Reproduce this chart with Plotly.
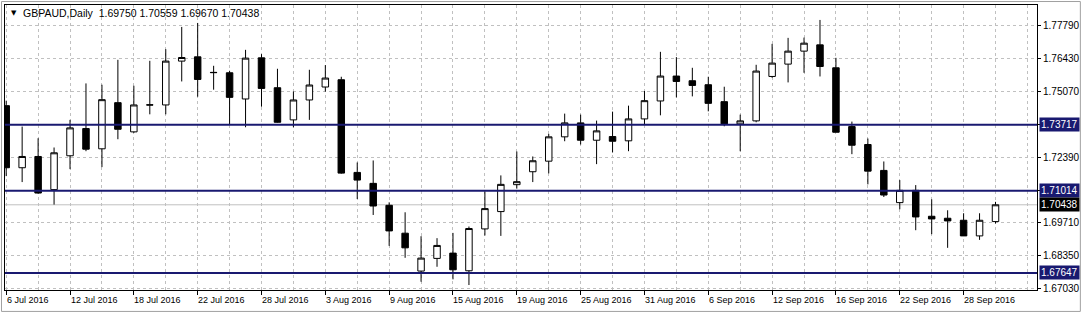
import pandas as pd
import plotly.graph_objects as go

# ---------------- data ----------------
dates = [d.strftime("%Y-%m-%d") for d in pd.bdate_range("2016-07-06", "2016-09-30")]

opens = [1.74497, 1.71955, 1.72416, 1.71058, 1.72445, 1.73559, 1.72730, 1.74619, 1.73424, 1.74520,
         1.74526, 1.76321, 1.76496, 1.75860, 1.75843, 1.74770, 1.76455, 1.75231, 1.73914, 1.74730,
         1.75260, 1.75558, 1.71763, 1.71315, 1.70417, 1.69275, 1.67724, 1.68243, 1.68459, 1.67736,
         1.69450, 1.70160, 1.71262, 1.71792, 1.72224, 1.73220, 1.73791, 1.73081, 1.73232, 1.73057,
         1.73954, 1.74689, 1.75709, 1.75517, 1.75354, 1.74660, 1.73750, 1.73873, 1.75692, 1.76198,
         1.76729, 1.76986, 1.76047, 1.73640, 1.72906, 1.71845, 1.70527, 1.71029, 1.69968, 1.69887,
         1.69805, 1.69164, 1.69750]

highs = [1.74701, 1.73640, 1.73163, 1.72783, 1.73914, 1.75407, 1.75354, 1.76374, 1.75313, 1.76333,
         1.76810, 1.77720, 1.77883, 1.76129, 1.75925, 1.76782, 1.76606, 1.76007, 1.75080, 1.75966,
         1.76158, 1.75680, 1.72171, 1.72253, 1.70539, 1.70131, 1.69152, 1.69071, 1.69287, 1.69548,
         1.70988, 1.71641, 1.72620, 1.72416, 1.73342, 1.74171, 1.74130, 1.73885, 1.74252, 1.74497,
         1.75097, 1.76700, 1.76484, 1.76047, 1.75680, 1.75272, 1.74130, 1.76170, 1.77027, 1.77272,
         1.77284, 1.78006, 1.76455, 1.73844, 1.73151, 1.72212, 1.71449, 1.71245, 1.70662, 1.70213,
         1.70091, 1.70091, 1.70559]

lows = [1.71612, 1.71368, 1.70894, 1.70446, 1.71898, 1.72632, 1.71980, 1.73122, 1.73383, 1.74142,
        1.74142, 1.75488, 1.74864, 1.75150, 1.73722, 1.73612, 1.74456, 1.73800, 1.73612, 1.73914,
        1.75068, 1.71710, 1.70674, 1.70021, 1.68756, 1.68267, 1.67288, 1.67900, 1.67386, 1.67153,
        1.69181, 1.69164, 1.71098, 1.71368, 1.71723, 1.73040, 1.72906, 1.72102, 1.72579, 1.72632,
        1.73722, 1.74101, 1.74836, 1.74876, 1.74264, 1.73652, 1.72632, 1.73816, 1.75639, 1.75448,
        1.75843, 1.75692, 1.73408, 1.72510, 1.71274, 1.70756, 1.70254, 1.69397, 1.69234, 1.68675,
        1.69164, 1.69001, 1.69670]

closes = [1.71955, 1.72416, 1.70919, 1.72567, 1.73587, 1.72714, 1.74742, 1.73530, 1.74526, 1.74530,
          1.76321, 1.76468, 1.75570, 1.75850, 1.74836, 1.76443, 1.75203, 1.73816, 1.74730, 1.75342,
          1.75627, 1.71735, 1.71449, 1.70388, 1.69368, 1.68675, 1.68255, 1.68773, 1.67777, 1.69466,
          1.70282, 1.71274, 1.71384, 1.72241, 1.73220, 1.73791, 1.73081, 1.73465, 1.73040, 1.73954,
          1.74701, 1.75709, 1.75488, 1.75325, 1.74591, 1.73750, 1.73873, 1.75913, 1.76239, 1.76729,
          1.77055, 1.76100, 1.73408, 1.72877, 1.71816, 1.70837, 1.71029, 1.69940, 1.69858, 1.69776,
          1.69164, 1.69805, 1.70438]

x_tick_dates = ["2016-07-06", "2016-07-12", "2016-07-18", "2016-07-22", "2016-07-28", "2016-08-03",
                "2016-08-09", "2016-08-15", "2016-08-19", "2016-08-25", "2016-08-31", "2016-09-06",
                "2016-09-12", "2016-09-16", "2016-09-22", "2016-09-28"]
x_tick_labels = ["6 Jul 2016", "12 Jul 2016", "18 Jul 2016", "22 Jul 2016", "28 Jul 2016", "3 Aug 2016",
                 "9 Aug 2016", "15 Aug 2016", "19 Aug 2016", "25 Aug 2016", "31 Aug 2016", "6 Sep 2016",
                 "12 Sep 2016", "16 Sep 2016", "22 Sep 2016", "28 Sep 2016"]

y_tick_vals = [1.77790, 1.76430, 1.75070, 1.73710, 1.72390, 1.71030, 1.69710, 1.68350, 1.67030]
y_tick_text = ["1.77790", "1.76430", "1.75070", "", "1.72390", "", "1.69710", "1.68350", "1.67030"]

level_lines = [1.73717, 1.71014, 1.67647]
bid_price = 1.70438

title_text = "GBPAUD,Daily\u00a0\u00a01.69750 1.70559 1.69670 1.70438"

# ---------------- figure ----------------
idx = list(range(len(dates)))
NAVY = "#191970"
GRID = "#c0c0c0"
FONT = "Liberation Sans, Arial, sans-serif"

fig = go.Figure(go.Candlestick(
    x=idx, open=opens, high=highs, low=lows, close=closes,
    increasing=dict(line=dict(color="black", width=1), fillcolor="white"),
    decreasing=dict(line=dict(color="black", width=1), fillcolor="black"),
    whiskerwidth=0, hoverinfo="skip",
))

tick_idx = [dates.index(d) for d in x_tick_dates]

fig.update_layout(
    width=1084, height=314,
    margin=dict(l=4, r=45, t=4, b=24, pad=0),
    paper_bgcolor="white", plot_bgcolor="white",
    showlegend=False, boxgap=0.42,
    font=dict(family=FONT, size=10, color="black"),
    xaxis=dict(
        range=[-0.075, 64.6], rangeslider=dict(visible=False),
        tickmode="array", tickvals=tick_idx, showticklabels=False,
        ticks="outside", ticklen=4, tickcolor="black", tickwidth=1,
        showgrid=False, zeroline=False,
        showline=True, linecolor="black", linewidth=1, mirror=True,
        minor=dict(tickmode="linear", tick0=0, dtick=2, showgrid=True,
                   gridcolor=GRID, griddash="3px,3px", gridwidth=1, ticks=""),
    ),
    yaxis=dict(
        side="right", range=[1.66949, 1.78618],
        tickmode="array", tickvals=y_tick_vals, ticktext=y_tick_text,
        ticks="outside", ticklen=3, tickcolor="black",
        tickfont=dict(family=FONT, size=10, color="black"),
        showgrid=True, gridcolor=GRID, griddash="3px,3px", gridwidth=1,
        zeroline=False, showline=True, linecolor="black", linewidth=1, mirror=True,
    ),
)

shapes = []
for lv in level_lines:
    shapes.append(dict(type="line", xref="paper", x0=0, x1=1, yref="y", y0=lv, y1=lv,
                       line=dict(color=NAVY, width=2), layer="above"))
shapes.append(dict(type="line", xref="paper", x0=0, x1=1, yref="y", y0=bid_price, y1=bid_price,
                   line=dict(color=GRID, width=1), layer="below"))
# outer window border
shapes.append(dict(type="rect", xref="paper", yref="paper",
                   x0=-0.0034, x1=1.0420, y0=-0.0752, y1=1.0122,
                   line=dict(color="#a0a0a0", width=1), layer="above"))
fig.update_layout(shapes=shapes)

annotations = []
for lv in level_lines:
    annotations.append(dict(xref="paper", x=1, xanchor="left", xshift=2, yref="y", y=lv,
                            yanchor="middle", text=f"{lv:.5f}", showarrow=False,
                            font=dict(family=FONT, size=10, color="white"),
                            bgcolor=NAVY, borderpad=1))
annotations.append(dict(xref="paper", x=1, xanchor="left", xshift=2, yref="y", y=bid_price,
                        yanchor="middle", text=f"{bid_price:.5f}", showarrow=False,
                        font=dict(family=FONT, size=10, color="white"),
                        bgcolor="black", borderpad=1))
for ti, lab in zip(tick_idx, x_tick_labels):
    annotations.append(dict(xref="x", x=ti, xanchor="left", xshift=-1.5, yref="paper", y=-0.035,
                            yanchor="middle", text=lab, showarrow=False,
                            font=dict(family=FONT, size=9, color="black")))
annotations.append(dict(xref="paper", x=0, xanchor="left", xshift=16, yref="paper", y=0.972,
                        yanchor="middle", text=title_text, showarrow=False,
                        font=dict(family=FONT, size=10.5, color="black")))
annotations.append(dict(xref="paper", x=0, xanchor="left", xshift=4, yref="paper", y=0.972,
                        yanchor="middle", text="\u25bc", showarrow=False,
                        font=dict(family="DejaVu Sans", size=7, color="black")))
fig.update_layout(annotations=annotations)

fig.write_html("out.html")
